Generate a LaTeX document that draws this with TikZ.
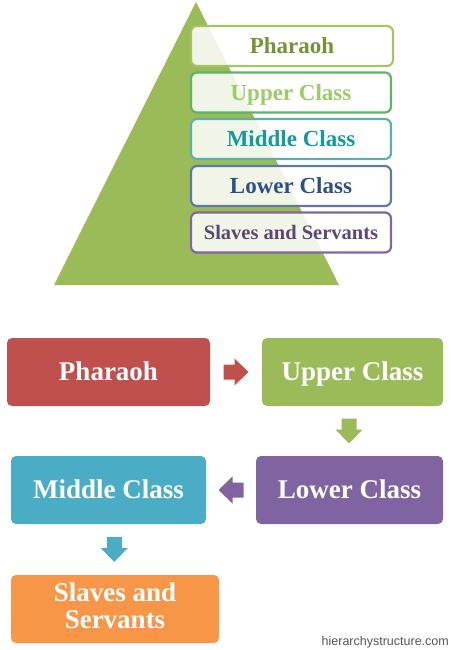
\documentclass[tikz,border=0pt]{standalone}
\usepackage{fontspec}
\setmainfont{Liberation Serif}
\setsansfont{Liberation Sans}
\usetikzlibrary{calc}
\definecolor{tri}{HTML}{9BBB59}
\definecolor{cRed}{HTML}{C0504D}
\definecolor{cGreen}{HTML}{9BBB59}
\definecolor{cPurple}{HTML}{8064A2}
\definecolor{cTeal}{HTML}{4BACC6}
\definecolor{cOrange}{HTML}{F79646}
\definecolor{bPh}{HTML}{A5C265}
\definecolor{tPh}{HTML}{76913A}
\definecolor{bUp}{HTML}{5DB366}
\definecolor{tUp}{HTML}{9DCC66}
\definecolor{bMi}{HTML}{5AB0AC}
\definecolor{tMi}{HTML}{16999A}
\definecolor{bLo}{HTML}{5E78A8}
\definecolor{tLo}{HTML}{2E4E88}
\definecolor{bSl}{HTML}{8066A0}
\definecolor{tSl}{HTML}{5C4876}
\definecolor{wm}{HTML}{555555}
\tikzset{
  pbox/.style={draw=#1, line width=2.2pt, rounded corners=6pt, fill=white, fill opacity=0.86, text opacity=1,
    minimum width=202pt, minimum height=40pt, inner sep=0pt, text height=15.2pt, text depth=0pt,
    font=\bfseries\fontsize{23}{26}\selectfont},
  fbox/.style={fill=#1, rounded corners=5pt, text=white, inner sep=0pt, minimum height=68pt,
    text height=17.8pt, text depth=0pt, font=\bfseries\fontsize{27}{26.5}\selectfont, align=center},
  ftext/.style={text=white, inner sep=0pt, align=center, font=\bfseries\fontsize{27}{26.5}\selectfont},
  blockarrow/.pic={\fill (-12.5,-7.5) -- (-1.5,-7.5) -- (-1.5,-13.5) -- (12.5,0) -- (-1.5,13.5) -- (-1.5,7.5) -- (-12.5,7.5) -- cycle;}
}
\begin{document}
\begin{tikzpicture}[x=1pt,y=-1pt]
\useasboundingbox (0,0) rectangle (450,650);
% pyramid
\fill[tri] (196,2) -- (339,285) -- (54,285) -- cycle;
\node[pbox=bPh, text=tPh] (p1) at (292,46) {Pharaoh};
\node[pbox=bUp, text=tUp, minimum width=200pt] (p2) at (291,92.5) {Upper Class};
\node[pbox=bMi, text=tMi, minimum width=200pt] (p3) at (291,139) {Middle Class};
\node[pbox=bLo, text=tLo, minimum width=200pt] (p4) at (291,186) {Lower Class};
\node[pbox=bSl, text=tSl, minimum width=200pt, text height=13.6pt, font=\bfseries\fontsize{20.5}{24}\selectfont] (p5) at (291,232.5) {Slaves and Servants};
% flow
\node[fbox=cRed, minimum width=203pt] (f1) at (108.5,372) {Pharaoh};
\node[fbox=cGreen, minimum width=181pt] (f2) at (352.5,372) {Upper Class};
\node[fbox=cPurple, minimum width=187pt] (f3) at (349.5,490) {Lower Class};
\node[fbox=cTeal, minimum width=195pt] (f4) at (108.5,490) {Middle Class};
\node[fbox=cOrange, minimum width=208pt] (f5) at (115,609) {};
\node[ftext] (f5t) at ($(f5.center)+(0,-3)$) {Slaves and\\Servants};
\coordinate (a1) at ($(f1.east)!0.5!(f2.west)$);
\coordinate (a2) at ($(f2.south)!0.5!(f3.north)+(-2,0)$);
\coordinate (a3) at ($(f3.west)!0.5!(f4.east)$);
\coordinate (a4) at ($(f4.south)!0.5!(f5.north)+(2.5,0)$);
\pic[cRed] at (a1) {blockarrow};
\pic[cGreen, rotate=-90] at (a2) {blockarrow};
\pic[cPurple, rotate=180] at (a3) {blockarrow};
\pic[cTeal, rotate=-90] at (a4) {blockarrow};
\node[anchor=base east, text=wm, font=\sffamily\fontsize{12.5}{14}\selectfont, inner sep=0pt] (w) at (449,645) {hierarchystructure.com};
\end{tikzpicture}
\end{document}
